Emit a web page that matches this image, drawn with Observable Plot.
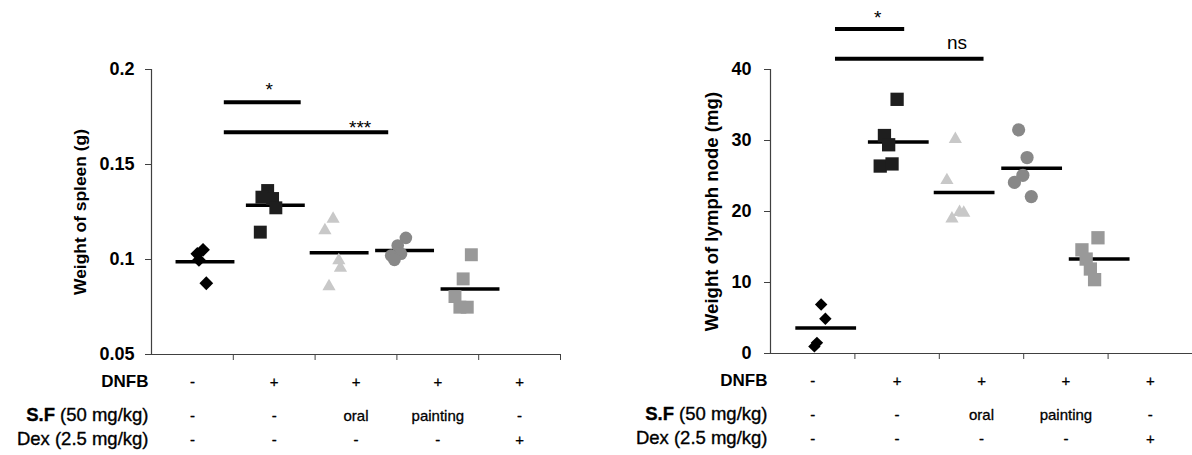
<!DOCTYPE html>
<html>
<head>
<meta charset="utf-8">
<script src="https://cdn.jsdelivr.net/npm/d3@7"></script>
<script src="https://cdn.jsdelivr.net/npm/@observablehq/plot@0.6"></script>
<style>
  html, body { margin: 0; padding: 0; background: #fff; }
  #wrap { position: relative; width: 1192px; height: 455px; overflow: hidden; font-family: "Liberation Sans", Arial, sans-serif; }
  .panel { position: absolute; top: 0; }
</style>
</head>
<body>
<div id="wrap">
  <div class="panel" id="left" style="left:0px"></div>
  <div class="panel" id="right" style="left:600px"></div>
</div>
<script>
// ---- shared categories / table ----
const groups = ["DNFB -", "DNFB +", "DNFB + S.F oral", "DNFB + S.F painting", "DNFB + Dex"];
const groupPos = [0.66, 1.52, 2.3, 3.1, 3.9];      // x of each group's data (category units)
const bandCenters = [0.5, 1.5, 2.5, 3.5, 4.5];      // x of the table entries
const xTicks = [1, 2, 3, 4, 5];
const rowLabels = ["DNFB", "S.F (50 mg/kg)", "Dex (2.5 mg/kg)"];
const dnfbRow = ["-", "+", "+", "+", "+"];
const sfRow = ["-", "-", "oral", "painting", "-"];
const dexRow = ["-", "-", "-", "-", "+"];
const symbols = ["diamond2", "square", "triangle", "circle", "square"];
const colors = ["#000000", "#1e1e1e", "#c8c8c8", "#888888", "#999999"];

// ---- spleen (g) ----
const spleenValues = [
  [0.103, 0.1051, 0.0998, 0.0875],
  [0.1363, 0.1328, 0.1321, 0.1272, 0.1144],
  [0.1214, 0.1153, 0.0995, 0.0956, 0.0858],
  [0.1114, 0.1074, 0.1030, 0.1021, 0.0998],
  [0.1025, 0.0898, 0.0805, 0.0749, 0.0749]
];
const spleenX = [
  [0.56, 0.63, 0.58, 0.67],
  [1.42, 1.35, 1.48, 1.52, 1.33],
  [2.22, 2.12, 2.29, 2.31, 2.17],
  [3.11, 3.01, 3.05, 2.93, 2.97],
  [3.91, 3.81, 3.71, 3.77, 3.86]
];
const spleenTicks = [0.05, 0.1, 0.15, 0.2];
const spleenSigFrom = [0.89, 0.89];
const spleenSigTo = [1.83, 2.90];
const spleenSigY = [0.1828, 0.167];
const spleenSigText = ["*", "***"];
const spleenSigTextX = [1.44, 2.55];
const spleenSigTextY = [0.189, 0.1691];

// ---- lymph node (mg) ----
const lymphValues = [
  [6.9, 4.9, 1.5, 1.0],
  [35.8, 30.7, 29.4, 26.4, 26.7],
  [30.2, 24.4, 19.9, 19.8, 19.0],
  [31.5, 27.6, 25.1, 24.1, 22.1],
  [16.3, 14.6, 13.3, 11.9, 10.4]
];
const lymphX = [
  [0.60, 0.65, 0.55, 0.52],
  [1.50, 1.35, 1.40, 1.30, 1.44],
  [2.19, 2.09, 2.24, 2.29, 2.15],
  [2.94, 3.04, 2.99, 2.89, 3.09],
  [3.88, 3.69, 3.74, 3.79, 3.84]
];
const lymphTicks = [0, 10, 20, 30, 40];
const lymphSigFrom = [0.77, 0.77];
const lymphSigTo = [1.59, 2.53];
const lymphSigY = [45.7, 41.5];
const lymphSigText = ["*", "ns"];
const lymphSigTextX = [1.27, 2.21];
const lymphSigTextY = [47.2, 43.7];

const FONT = "'Liberation Sans', Arial, sans-serif";

function panel(cfg) {
  const sizes = cfg.sizes;
  const points = [];
  cfg.values.forEach((vals, g) => vals.forEach((v, k) => points.push({g, x: cfg.xs[g][k], y: v})));
  const means = cfg.values.map((vals, g) => ({g, mean: d3.mean(vals), x1: groupPos[g] - 0.36, x2: groupPos[g] + 0.36}));
  const sig = cfg.sigY.map((y, i) => ({y, x1: cfg.sigFrom[i], x2: cfg.sigTo[i], label: cfg.sigText[i], lx: cfg.sigTextX[i], ly: cfg.sigTextY[i]}));
  const table = [];
  [dnfbRow, sfRow, dexRow].forEach((row, r) => row.forEach((t, i) => table.push({r, x: bandCenters[i], t})));
  const rowDy = [32, 66, 90];
  const rowSize = [17, 18.5, 18.5];
  const rowWeight = ["bold", "normal", "normal"];
  const ymin = cfg.ticks[0];
  const svg = Plot.plot({
    width: cfg.width,
    height: 455,
    marginLeft: cfg.marginLeft,
    marginRight: cfg.marginRight,
    marginTop: 69,
    marginBottom: cfg.marginBottom,
    style: {fontFamily: FONT, color: "#000", background: "transparent", overflow: "visible"},
    x: {domain: [0, 5], axis: null},
    y: {domain: [cfg.ticks[0], cfg.ticks[cfg.ticks.length - 1]], axis: null},
    marks: [
      Plot.axisY({ticks: cfg.ticks, tickSize: 6, tickPadding: cfg.tickPadding, tickFormat: d => String(d), fontSize: 18, fontWeight: "bold", stroke: "#404040", fill: "#000", label: null}),
      Plot.axisX({ticks: xTicks, tickSize: 6, tickFormat: () => "", stroke: "#404040", label: null}),
      Plot.ruleX([0], {stroke: "#404040", strokeWidth: 1.2}),
      Plot.ruleY([ymin], {stroke: "#404040", strokeWidth: 1.2}),
      Plot.text([cfg.title], {frameAnchor: "left", textAnchor: "middle", rotate: -90, dx: -cfg.titleOffset, fontSize: cfg.titleSize, fontWeight: "bold", fill: "#000"}),
      Plot.ruleY(means, {y: "mean", x1: "x1", x2: "x2", stroke: "#000", strokeWidth: 3.5}),
      ...groups.map((_, g) => Plot.dot(points.filter(p => p.g === g), {x: "x", y: "y", symbol: symbols[g], fill: colors[g], stroke: "none", r: sizes[g]})),
      Plot.ruleY(sig, {y: "y", x1: "x1", x2: "x2", stroke: "#000", strokeWidth: 4}),
      Plot.text(sig, {x: "lx", y: "ly", text: "label", fontSize: 19, fill: "#000"}),
      ...rowLabels.map((lab, r) => Plot.text([lab], {x: () => 0, frameAnchor: "bottom", dy: rowDy[r], dx: -3, textAnchor: "end", fontSize: rowSize[r], fontWeight: rowWeight[r], fill: "#000", stroke: r === 0 ? null : "#000", strokeWidth: 0.35})),
      ...[0, 1, 2].map(r => Plot.text(table.filter(d => d.r === r), {x: "x", text: "t", frameAnchor: "bottom", dy: rowDy[r], fontSize: 15, fill: "#000", stroke: "#000", strokeWidth: 0.3}))
    ]
  });
  // make the "S.F" part of the row label bold, as in the original
  d3.select(svg).selectAll("text").filter(function () { return this.textContent === rowLabels[1]; }).each(function () {
    const t = d3.select(this);
    t.text(null);
    t.append("tspan").attr("font-weight", "bold").text("S.F");
    t.append("tspan").text(" (50 mg/kg)");
  });
  return svg;
}

document.getElementById("left").appendChild(panel({
  width: 600, marginLeft: 151, marginRight: 40, marginBottom: 101,
  values: spleenValues, xs: spleenX, ticks: spleenTicks,
  sigFrom: spleenSigFrom, sigTo: spleenSigTo, sigY: spleenSigY, sigText: spleenSigText, sigTextX: spleenSigTextX, sigTextY: spleenSigTextY,
  title: "Weight of spleen (g)", titleOffset: 71, titleSize: 17.4, tickPadding: 11,
  sizes: [6.2, 7.3, 4.9, 6.3, 7.3]
}));
document.getElementById("right").appendChild(panel({
  width: 592, marginLeft: 170, marginRight: 0, marginBottom: 102,
  values: lymphValues, xs: lymphX, ticks: lymphTicks,
  sigFrom: lymphSigFrom, sigTo: lymphSigTo, sigY: lymphSigY, sigText: lymphSigText, sigTextX: lymphSigTextX, sigTextY: lymphSigTextY,
  title: "Weight of lymph node (mg)", titleOffset: 58, titleSize: 18.6, tickPadding: 13,
  sizes: [5.6, 7.5, 4.9, 6.6, 7.5]
}));
</script>
</body>
</html>
